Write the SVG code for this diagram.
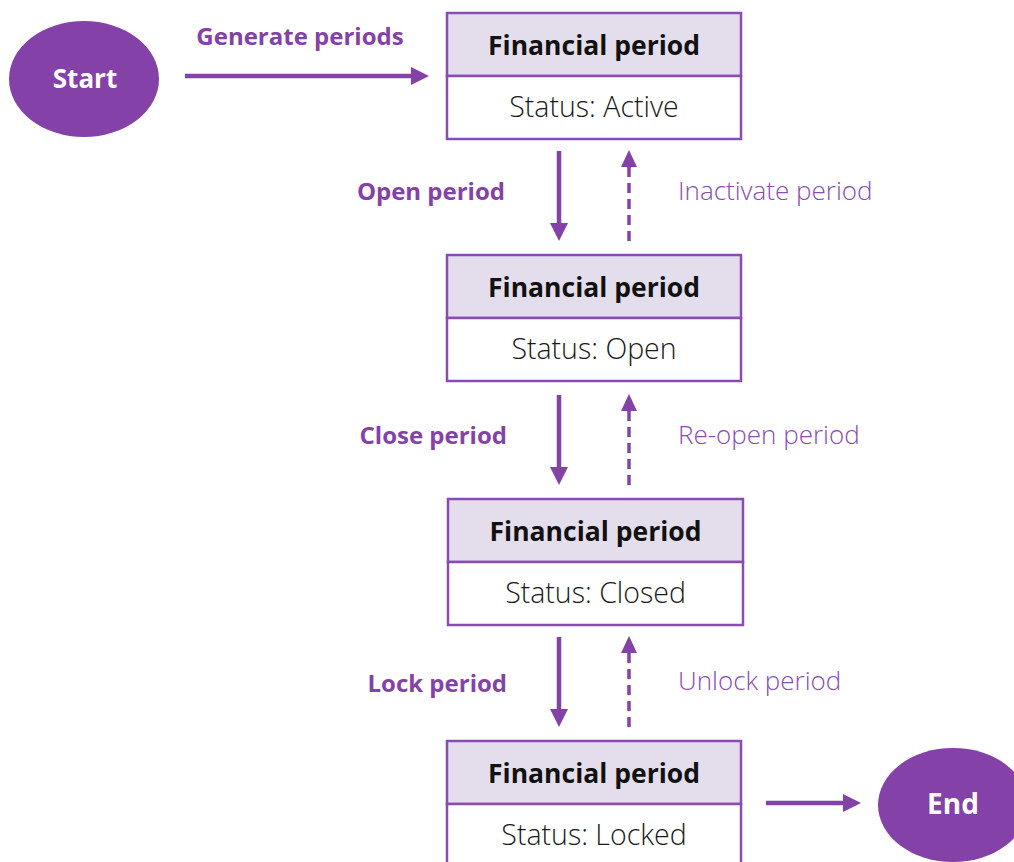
<svg xmlns="http://www.w3.org/2000/svg" width="1014" height="862" viewBox="0 0 1014 862">
  <style>
    .hdr { fill: #E4DEEC; stroke: #8A4CB4; stroke-width: 2.5; }
    .body { fill: #FFFFFF; stroke: #8A4CB4; stroke-width: 2.5; }
    .title { font-family: "Open Sans", "Noto Sans", sans-serif; font-weight: 700; font-size: 26.5px; fill: #111111; text-anchor: middle; }
    .status { font-family: "Open Sans", "Noto Sans", sans-serif; font-weight: 300; font-size: 28.5px; fill: #1a1a1a; text-anchor: middle; }
    .term { fill: #8441A8; }
    .termtxt { font-family: "Open Sans", "Noto Sans", sans-serif; font-weight: 700; font-size: 26px; fill: #FFFFFF; text-anchor: middle; }
    .fwd { font-family: "Open Sans", "Noto Sans", sans-serif; font-weight: 700; font-size: 24px; fill: #8441A8; }
    .back { font-family: "Open Sans", "Noto Sans", sans-serif; font-weight: 300; font-size: 26px; fill: #8A4CB4; }
    .solid { stroke: #8441A8; stroke-width: 4.5; fill: none; }
    .dash { stroke: #8441A8; stroke-width: 3.5; fill: none; stroke-dasharray: 10 6; }
    .head { fill: #8441A8; }
  </style>

  <!-- start / end terminals -->
  <g id="start">
    <ellipse class="term" cx="84" cy="79" rx="75" ry="58"/>
    <text class="termtxt" x="85" y="88">Start</text>
  </g>
  <g id="end">
    <ellipse class="term" cx="953" cy="805" rx="75" ry="57"/>
    <text class="termtxt" x="953" y="814" style="font-size:28px">End</text>
  </g>

  <!-- period states -->
  <g id="period-active">
    <rect class="hdr" x="447" y="13" width="294" height="63"/>
    <rect class="body" x="447" y="76" width="294" height="63"/>
    <text class="title" x="594" y="55">Financial period</text>
    <text class="status" x="594" y="117">Status: Active</text>
  </g>
  <g id="period-open">
    <rect class="hdr" x="447" y="255" width="294" height="63"/>
    <rect class="body" x="447" y="318" width="294" height="63"/>
    <text class="title" x="594" y="297">Financial period</text>
    <text class="status" x="594" y="359">Status: Open</text>
  </g>
  <g id="period-closed">
    <rect class="hdr" x="448" y="499" width="295" height="63"/>
    <rect class="body" x="448" y="562" width="295" height="63"/>
    <text class="title" x="595.5" y="541">Financial period</text>
    <text class="status" x="595.5" y="603">Status: Closed</text>
  </g>
  <g id="period-locked">
    <rect class="hdr" x="447" y="741" width="294" height="63"/>
    <rect class="body" x="447" y="804" width="294" height="63"/>
    <text class="title" x="594" y="783">Financial period</text>
    <text class="status" x="594" y="845">Status: Locked</text>
  </g>

  <!-- transitions -->
  <g id="connectors">
    <!-- generate -->
    <line class="solid" x1="185" y1="76" x2="413" y2="76"/>
    <polygon class="head" points="411,67 429,76 411,85"/>
    <text class="fwd" x="300" y="45" text-anchor="middle">Generate periods</text>

    <!-- active <-> open -->
    <line class="solid" x1="559" y1="151" x2="559" y2="225"/>
    <polygon class="head" points="550,223 568,223 559,241"/>
    <line class="dash" x1="629" y1="241" x2="629" y2="165"/>
    <polygon class="head" points="621,167 637,167 629,150"/>
    <text class="fwd" x="505" y="200" text-anchor="end">Open period</text>
    <text class="back" x="678" y="200">Inactivate period</text>

    <!-- open <-> closed -->
    <line class="solid" x1="559" y1="395" x2="559" y2="469"/>
    <polygon class="head" points="550,467 568,467 559,485"/>
    <line class="dash" x1="629" y1="485" x2="629" y2="409"/>
    <polygon class="head" points="621,411 637,411 629,394"/>
    <text class="fwd" x="507" y="444" text-anchor="end">Close period</text>
    <text class="back" x="678" y="444">Re-open period</text>

    <!-- closed <-> locked -->
    <line class="solid" x1="559" y1="637" x2="559" y2="711"/>
    <polygon class="head" points="550,709 568,709 559,727"/>
    <line class="dash" x1="629" y1="727" x2="629" y2="651"/>
    <polygon class="head" points="621,653 637,653 629,636"/>
    <text class="fwd" x="507" y="692" text-anchor="end">Lock period</text>
    <text class="back" x="678" y="690">Unlock period</text>

    <!-- finish -->
    <line class="solid" x1="766" y1="803" x2="845" y2="803"/>
    <polygon class="head" points="843,794 861,803 843,812"/>
  </g>
</svg>
